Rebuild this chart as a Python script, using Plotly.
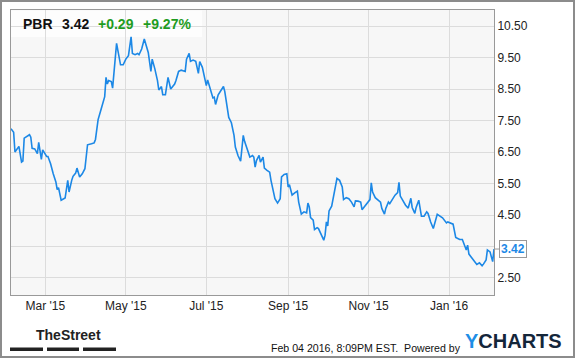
import plotly.graph_objects as go

# ---- data ----
dates = [
    "2015-02-03", "2015-02-05", "2015-02-06", "2015-02-08", "2015-02-09", "2015-02-11", "2015-02-12",
    "2015-02-13", "2015-02-15", "2015-02-17", "2015-02-18", "2015-02-19", "2015-02-21", "2015-02-22",
    "2015-02-23", "2015-02-24", "2015-02-25", "2015-02-26", "2015-02-27", "2015-03-01", "2015-03-02",
    "2015-03-03", "2015-03-05", "2015-03-07", "2015-03-09", "2015-03-10", "2015-03-11", "2015-03-13",
    "2015-03-15", "2015-03-16", "2015-03-18", "2015-03-19", "2015-03-21", "2015-03-22", "2015-03-24",
    "2015-03-25", "2015-03-27", "2015-03-29", "2015-03-31", "2015-04-02", "2015-04-05", "2015-04-07",
    "2015-04-08", "2015-04-10", "2015-04-12", "2015-04-13", "2015-04-15", "2015-04-16", "2015-04-17",
    "2015-04-18", "2015-04-20", "2015-04-21", "2015-04-24", "2015-04-27", "2015-04-29", "2015-05-01",
    "2015-05-03", "2015-05-05", "2015-05-06", "2015-05-08", "2015-05-10", "2015-05-11", "2015-05-13",
    "2015-05-15", "2015-05-18", "2015-05-20", "2015-05-21", "2015-05-23", "2015-05-25", "2015-05-26",
    "2015-05-28", "2015-05-29", "2015-05-31", "2015-06-02", "2015-06-04", "2015-06-07", "2015-06-08",
    "2015-06-10", "2015-06-12", "2015-06-15", "2015-06-16", "2015-06-18", "2015-06-19", "2015-06-21",
    "2015-06-23", "2015-06-25", "2015-06-26", "2015-06-28", "2015-06-29", "2015-07-01", "2015-07-02",
    "2015-07-04", "2015-07-06", "2015-07-07", "2015-07-08", "2015-07-10", "2015-07-12", "2015-07-14",
    "2015-07-15", "2015-07-17", "2015-07-18", "2015-07-20", "2015-07-22", "2015-07-23", "2015-07-25",
    "2015-07-27", "2015-07-29", "2015-07-30", "2015-07-31", "2015-08-02", "2015-08-03", "2015-08-05",
    "2015-08-06", "2015-08-07", "2015-08-08", "2015-08-10", "2015-08-11", "2015-08-13", "2015-08-14",
    "2015-08-16", "2015-08-18", "2015-08-19", "2015-08-21", "2015-08-22", "2015-08-24", "2015-08-26",
    "2015-08-27", "2015-08-29", "2015-08-31", "2015-09-01", "2015-09-02", "2015-09-04", "2015-09-06",
    "2015-09-08", "2015-09-09", "2015-09-11", "2015-09-13", "2015-09-15", "2015-09-16", "2015-09-17",
    "2015-09-18", "2015-09-20", "2015-09-21", "2015-09-23", "2015-09-24", "2015-09-26", "2015-09-28",
    "2015-09-29", "2015-09-30", "2015-10-01", "2015-10-02", "2015-10-04", "2015-10-05", "2015-10-08",
    "2015-10-10", "2015-10-12", "2015-10-13", "2015-10-15", "2015-10-17", "2015-10-19", "2015-10-21",
    "2015-10-22", "2015-10-24", "2015-10-26", "2015-10-27", "2015-10-29", "2015-11-01", "2015-11-02",
    "2015-11-03", "2015-11-04", "2015-11-06", "2015-11-08", "2015-11-10", "2015-11-11", "2015-11-13",
    "2015-11-14", "2015-11-16", "2015-11-17", "2015-11-19", "2015-11-21", "2015-11-23", "2015-11-24",
    "2015-11-25", "2015-11-27", "2015-11-29", "2015-12-01", "2015-12-03", "2015-12-04", "2015-12-06",
    "2015-12-07", "2015-12-09", "2015-12-11", "2015-12-13", "2015-12-15", "2015-12-16", "2015-12-18",
    "2015-12-20", "2015-12-23", "2015-12-25", "2015-12-27", "2015-12-30", "2015-12-31", "2016-01-04",
    "2016-01-06", "2016-01-09", "2016-01-11", "2016-01-14", "2016-01-15", "2016-01-16", "2016-01-18",
    "2016-01-21", "2016-01-22", "2016-01-24", "2016-01-26", "2016-01-27", "2016-01-29", "2016-01-30",
    "2016-02-01", "2016-02-02", "2016-02-03", "2016-02-04",
]
prices = [
    7.24, 7.13, 6.50, 6.60, 6.68, 6.18, 6.21,
    6.94, 6.99, 7.05, 6.97, 6.62, 6.60, 6.50,
    6.45, 6.81, 6.50, 6.27, 6.57, 6.45, 6.36,
    6.36, 6.13, 5.81, 5.55, 5.31, 5.37, 4.97,
    5.01, 5.04, 5.60, 5.23, 5.60, 5.73, 5.83,
    5.99, 5.71, 5.81, 5.97, 6.73, 6.76, 6.79,
    6.90, 7.53, 7.82, 7.97, 8.26, 8.87, 8.66,
    8.77, 8.74, 8.53, 9.95, 9.27, 9.27, 9.45,
    9.56, 10.16, 9.63, 9.59, 9.63, 9.59, 9.77,
    10.09, 9.66, 9.06, 9.45, 9.14, 8.77, 8.47,
    8.58, 8.32, 8.32, 8.87, 8.50, 8.66, 8.77,
    9.06, 9.10, 9.06, 9.45, 9.63, 9.38, 9.42,
    9.38, 9.00, 9.37, 9.19, 9.00, 8.61, 8.79,
    8.50, 8.22, 8.24, 8.01, 8.32, 8.45, 8.58,
    8.42, 7.89, 7.60, 7.43, 7.03, 6.66, 6.39,
    6.21, 7.03, 6.84, 6.71, 6.42, 6.34, 6.39,
    6.34, 6.02, 6.23, 6.39, 6.18, 6.34, 5.99,
    5.92, 5.86, 5.60, 5.20, 5.02, 4.88, 5.02,
    5.71, 5.79, 5.81, 5.39, 5.46, 5.13, 5.20,
    5.26, 4.91, 4.53, 4.60, 4.57, 4.88, 4.76,
    4.42, 4.34, 4.04, 4.10, 4.07, 3.91, 3.70,
    3.86, 4.28, 4.15, 4.63, 4.78, 5.02, 5.66,
    5.60, 5.39, 4.99, 5.05, 5.02, 4.91, 4.76,
    4.95, 4.94, 4.91, 4.67, 4.78, 4.91, 4.99,
    5.52, 5.23, 5.05, 4.97, 4.91, 4.71, 4.53,
    4.71, 4.91, 4.86, 5.02, 5.13, 5.21, 5.54,
    5.10, 4.95, 4.81, 4.72, 5.03, 4.74, 4.55,
    4.74, 4.97, 4.46, 4.46, 4.60, 4.55, 4.28,
    4.07, 4.52, 4.47, 4.41, 4.25, 4.28, 4.21,
    3.79, 3.72, 3.72, 3.39, 3.54, 3.26, 3.15,
    3.02, 2.93, 2.98, 2.89, 2.94, 3.07, 3.39,
    3.33, 3.17, 3.02, 3.42,
]
y_ticks = [2.5, 3.5, 4.5, 5.5, 6.5, 7.5, 8.5, 9.5, 10.5]
y_tick_labels = ["2.50", "", "4.50", "5.50", "6.50", "7.50", "8.50", "9.50", "10.50"]
ticker = "PBR"
last_price = "3.42"
change = "+0.29"
change_pct = "+9.27%"
timestamp = "Feb 04 2016, 8:09PM EST.&nbsp; Powered by"

n = min(len(dates), len(prices))
dates = dates[:n]
prices = prices[:n]

W, H = 575, 358
L, R, T, B = 11, 81, 10, 63
PW, PH = W - L - R, H - T - B

def px(x):
    return (x - L) / PW

def py(y):
    return (H - B - y) / PH

LINE = "#1c88e6"
GREEN = "#1f9c1f"
FONT = "Liberation Sans, Arial, sans-serif"

fig = go.Figure()
fig.add_trace(go.Scatter(x=dates, y=prices, mode="lines",
                         line=dict(color=LINE, width=1.6), hoverinfo="skip"))

fig.update_layout(
    width=W, height=H,
    margin=dict(l=L, r=R, t=T, b=B, pad=0, autoexpand=False),
    paper_bgcolor="white", plot_bgcolor="#f7f7f7",
    showlegend=False,
    font=dict(family=FONT, size=12, color="#222"),
    xaxis=dict(range=["2015-02-03", "2016-02-04"], tick0="2015-03-01", dtick="M2",
               tickformat="%b '%y", showgrid=True, gridcolor="#dcdcdc", gridwidth=1,
               showline=True, linecolor="#999", linewidth=1, mirror=True,
               ticks="", zeroline=False, fixedrange=True, automargin=False,
               tickfont=dict(family=FONT, size=12, color="#222")),
    yaxis=dict(range=[1.96, 11.01], side="right", tickvals=y_ticks, ticktext=y_tick_labels,
               showgrid=True, gridcolor="#dcdcdc", gridwidth=1,
               showline=True, linecolor="#999", linewidth=1, mirror=True,
               ticks="", zeroline=False, fixedrange=True, automargin=False,
               tickfont=dict(family=FONT, size=12, color="#222")),
)

shapes = []
# faint header box behind ticker text
shapes.append(dict(type="rect", xref="paper", yref="paper", layer="between",
                   x0=px(11), x1=px(202), y0=py(37), y1=py(10.5),
                   fillcolor="rgba(255,255,255,0.75)", line=dict(width=0)))
# outer frame
shapes.append(dict(type="rect", xref="paper", yref="paper", layer="above",
                   x0=px(1), x1=px(574), y0=py(357), y1=py(1),
                   fillcolor="rgba(0,0,0,0)", line=dict(color="#8c8c8c", width=2)))
# TheStreet underline bars
for a, b in [(10, 43), (47, 79), (83, 116)]:
    shapes.append(dict(type="rect", xref="paper", yref="paper",
                       x0=px(a), x1=px(b), y0=py(351), y1=py(347.5),
                       fillcolor="#222", line=dict(width=0)))
fig.update_layout(shapes=shapes)

ann = []
hdr_y = py(23.5)
ann.append(dict(text="<b>%s</b>" % ticker, x=px(21), y=hdr_y, font=dict(size=14, color="#111")))
ann.append(dict(text="<b>%s</b>" % last_price, x=px(60), y=hdr_y, font=dict(size=14, color="#111")))
ann.append(dict(text="<b>%s</b>" % change, x=px(96), y=hdr_y, font=dict(size=14, color=GREEN)))
ann.append(dict(text="<b>%s</b>" % change_pct, x=px(141), y=hdr_y, font=dict(size=14, color=GREEN)))
ann.append(dict(text="<b>TheStreet</b>", x=px(34), y=py(335),
                font=dict(size=14, color="#222", family=FONT)))
ann.append(dict(text=timestamp, x=px(269), y=py(347.5), font=dict(size=10.6, color="#111")))
ann.append(dict(text="<b><span style='color:#1e8ee6'>Y</span><span style='color:#14263a'>CHARTS</span></b>",
                x=px(463), y=py(341), font=dict(size=20, color="#14263a", family=FONT)))
for a in ann:
    a.update(xref="paper", yref="paper", xanchor="left", yanchor="middle", showarrow=False)

# last value callout
ann.append(dict(text="<b>%s</b>" % last_price, x=dates[-1], y=prices[-1], xref="x", yref="y",
                showarrow=True, ax=5, ay=0, arrowhead=0, arrowwidth=1, arrowcolor="#999",
                xanchor="left", yanchor="middle",
                bgcolor="white", bordercolor="#999", borderwidth=1, borderpad=1,
                font=dict(size=12, color="#1c88e6", family=FONT)))
fig.update_layout(annotations=ann)

fig.write_html("out.html", config={"displayModeBar": False, "staticPlot": True},
               post_script="document.body.style.margin='0';document.body.style.overflow='hidden';")
